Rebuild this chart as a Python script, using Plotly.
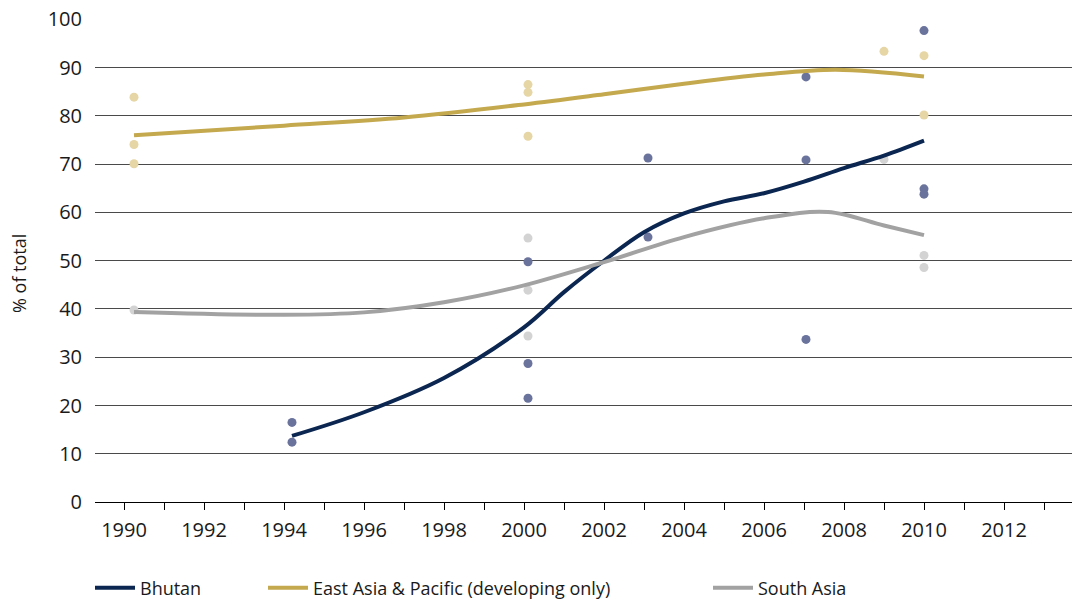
import plotly.graph_objects as go

# ---- data ----
bhutan_pts_x = [1994.2, 1994.2, 2000.1, 2000.1, 2000.1, 2003.1, 2003.1,
                2007.05, 2007.05, 2007.05, 2010, 2010, 2010]
bhutan_pts_y = [16.5, 12.4, 49.8, 28.7, 21.5, 71.3, 54.9,
                88.1, 70.9, 33.7, 97.7, 64.9, 63.8]

eap_pts_x = [1990.25, 1990.25, 1990.25, 2000.1, 2000.1, 2000.1, 2009, 2010, 2010]
eap_pts_y = [83.9, 74.1, 70.1, 86.5, 84.9, 75.8, 93.4, 92.5, 80.2]

sa_pts_x = [1990.25, 2000.1, 2000.1, 2000.1, 2009, 2010, 2010]
sa_pts_y = [39.8, 54.7, 43.9, 34.4, 71.0, 51.1, 48.6]

bhutan_fit_x = [1994.2, 1996, 1998, 2000, 2001, 2002, 2003, 2004, 2005, 2006, 2007, 2008, 2009, 2010]
bhutan_fit_y = [13.7, 18.6, 25.7, 36.2, 43.5, 50.0, 55.9, 59.8, 62.3, 64.0, 66.4, 69.2, 71.8, 74.9]

eap_fit_x = [1990.25, 1994, 1997, 2000, 2002, 2004, 2006, 2007.8, 2010]
eap_fit_y = [76.0, 78.0, 79.7, 82.4, 84.5, 86.7, 88.6, 89.6, 88.2]

sa_fit_x = [1990.25, 1994, 1996, 1998, 2000, 2002, 2004, 2006, 2007.6, 2009, 2010]
sa_fit_y = [39.4, 38.8, 39.3, 41.4, 44.9, 49.7, 54.9, 58.8, 60.1, 57.3, 55.3]

series_names = ["Bhutan", "East Asia & Pacific (developing only)", "South Asia"]
line_colors = ["#0b2650", "#c5a94f", "#a2a2a2"]
dot_colors = ["#6a739c", "#e6d6a6", "#d3d3d3"]

y_ticks = list(range(0, 101, 10))

FONT = "Open Sans"

fig = go.Figure()

pts = [(bhutan_pts_x, bhutan_pts_y), (eap_pts_x, eap_pts_y), (sa_pts_x, sa_pts_y)]
fits = [(bhutan_fit_x, bhutan_fit_y), (eap_fit_x, eap_fit_y), (sa_fit_x, sa_fit_y)]

for i, (px, py) in enumerate(pts):
    fig.add_trace(go.Scatter(
        x=px, y=py, mode="markers",
        marker=dict(size=9, color=dot_colors[i], line=dict(width=0)),
        showlegend=False, hoverinfo="x+y"))

legend_keys = ["legend", "legend2", "legend3"]
for i, (fx, fy) in enumerate(fits):
    fig.add_trace(go.Scatter(
        x=fx, y=fy, mode="lines", name=series_names[i],
        line=dict(color=line_colors[i], width=4, shape="spline", smoothing=1.0),
        legend=legend_keys[i]))

# the page body adds an 8px offset, so the figure is laid out in its own coords
OFF = 8
W, H = 1080 - OFF, 603 - OFF
PLOT_L, PLOT_R, PLOT_T, PLOT_B = 95 - OFF, 1080 - OFF, 19 - OFF, 502 - OFF
pw = PLOT_R - PLOT_L
ph = PLOT_B - PLOT_T

def sx(px):  # screen x -> paper x
    return (px - OFF - PLOT_L) / pw

def sy(py):  # screen y -> paper y
    return (PLOT_B - (py - OFF)) / ph

leg_common = dict(orientation="h", xanchor="left", yanchor="middle",
                  font=dict(family=FONT, size=18, color="#1a1a1a"),
                  bgcolor="rgba(0,0,0,0)", borderwidth=0, itemwidth=40,
                  tracegroupgap=0)

fig.update_layout(
    width=W, height=H,
    margin=dict(l=PLOT_L, r=W - PLOT_R, t=PLOT_T, b=H - PLOT_B, autoexpand=False),
    paper_bgcolor="white", plot_bgcolor="white",
    font=dict(family=FONT, size=18, color="#1a1a1a"),
    legend=dict(x=sx(90), y=sy(588), **leg_common),
    legend2=dict(x=sx(263), y=sy(588), **leg_common),
    legend3=dict(x=sx(708), y=sy(588), **leg_common),
    xaxis=dict(
        range=[1989.275, 2013.9],
        tickmode="linear", tick0=1990, dtick=2,
        ticks="outside", ticklen=7, tickwidth=1, tickcolor="#000000",
        minor=dict(tickmode="linear", tick0=1990, dtick=1, ticks="outside",
                   ticklen=7, tickwidth=1, tickcolor="#000000", showgrid=False),
        showgrid=False, zeroline=False,
        showline=True, linecolor="#000000", linewidth=1,
        ticklabelstandoff=3,
        tickfont=dict(family=FONT, size=20, color="#1a1a1a"),
        fixedrange=True,
    ),
    yaxis=dict(
        range=[0, 100.1], tickvals=y_ticks,
        showgrid=True, gridcolor="#4a4a4a", gridwidth=1,
        zeroline=False, showline=False, ticks="",
        ticklabelstandoff=12, ticklabeloverflow="allow",
        tickfont=dict(family=FONT, size=20, color="#1a1a1a"),
        fixedrange=True,
    ),
    annotations=[dict(
        text="% of total", textangle=-90, showarrow=False,
        xref="paper", yref="paper",
        x=sx(19), y=sy(274),
        xanchor="center", yanchor="middle",
        font=dict(family=FONT, size=18, color="#1a1a1a"))],
)

fig.write_html("out.html")
